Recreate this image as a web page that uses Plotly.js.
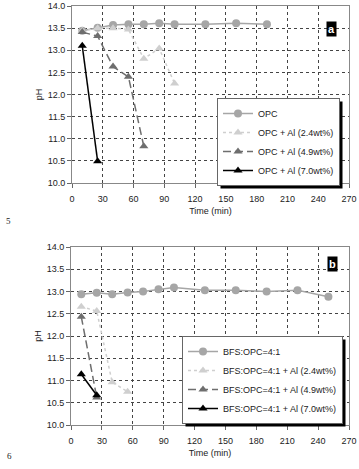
<!DOCTYPE html>
<html><head><meta charset="utf-8">
<script src="https://cdn.plot.ly/plotly-3.0.1.min.js"></script>
<style>html,body{margin:0;padding:0;background:#fff}#chart{width:359px;height:469px}</style>
</head><body><div id="chart"></div>
<script>
// Panel a
const tA_opc = [10, 25, 40, 55, 70, 85, 100, 130, 160, 190];
const pH_A_opc = [13.44, 13.51, 13.57, 13.59, 13.59, 13.61, 13.59, 13.59, 13.61, 13.59];
const tA_24 = [10, 25, 40, 55, 70, 85, 100];
const pH_A_24 = [13.44, 13.50, 13.50, 13.47, 12.81, 13.04, 12.25];
const tA_49 = [10, 25, 40, 55, 70];
const pH_A_49 = [13.41, 13.32, 12.63, 12.40, 10.83];
const tA_70 = [10, 25];
const pH_A_70 = [13.10, 10.49];
const namesA = ['OPC', 'OPC + Al (2.4wt%)', 'OPC + Al (4.9wt%)', 'OPC + Al (7.0wt%)'];

// Panel b
const tB_bfs = [10, 25, 40, 55, 70, 85, 100, 130, 160, 190, 220, 250];
const pH_B_bfs = [12.94, 12.97, 12.94, 12.98, 13.00, 13.05, 13.09, 13.03, 13.03, 13.00, 13.03, 12.88];
const tB_24 = [10, 25, 40, 55];
const pH_B_24 = [12.66, 12.56, 10.96, 10.75];
const tB_49 = [10, 25];
const pH_B_49 = [12.43, 10.62];
const tB_70 = [10, 25];
const pH_B_70 = [11.14, 10.67];
const namesB = ['BFS:OPC=4:1', 'BFS:OPC=4:1 + Al (2.4wt%)', 'BFS:OPC=4:1 + Al (4.9wt%)', 'BFS:OPC=4:1 + Al (7.0wt%)'];

const xTicks = [0, 30, 60, 90, 120, 150, 180, 210, 240, 270];
const panelLabels = ['a', 'b'];
const pageNums = ['5', '6'];

const W = 359, H = 469;
const FONT = 'Liberation Sans, Arial, sans-serif';
const styles = [
  {color: '#a6a6a6', dash: 'solid', symbol: 'circle', size: 8},
  {color: '#cfcfcf', dash: '3px,3px', symbol: 'triangle-up', size: 8},
  {color: '#6e6e6e', dash: '8px,4px', symbol: 'triangle-up', size: 8},
  {color: '#000000', dash: 'solid', symbol: 'triangle-up', size: 8}
];
function tr(x, y, name, i, xa, ya, leg) {
  const s = styles[i];
  return {x: x, y: y, name: name, type: 'scatter', mode: 'lines+markers', xaxis: xa, yaxis: ya, legend: leg,
    line: {color: s.color, width: 1.5, dash: s.dash},
    marker: {color: s.color, symbol: s.symbol, size: s.size}};
}
const data = [
  tr(tA_opc, pH_A_opc, namesA[0], 0, 'x', 'y', 'legend'),
  tr(tA_24, pH_A_24, namesA[1], 1, 'x', 'y', 'legend'),
  tr(tA_49, pH_A_49, namesA[2], 2, 'x', 'y', 'legend'),
  tr(tA_70, pH_A_70, namesA[3], 3, 'x', 'y', 'legend'),
  tr(tB_bfs, pH_B_bfs, namesB[0], 0, 'x2', 'y2', 'legend2'),
  tr(tB_24, pH_B_24, namesB[1], 1, 'x2', 'y2', 'legend2'),
  tr(tB_49, pH_B_49, namesB[2], 2, 'x2', 'y2', 'legend2'),
  tr(tB_70, pH_B_70, namesB[3], 3, 'x2', 'y2', 'legend2')
];
function xax(dom, anchor) {
  return {domain: dom, anchor: anchor, range: [0, 270], tickvals: xTicks, ticktext: xTicks.map(String),
    showgrid: true, gridcolor: '#444', griddash: '3px,3px', gridwidth: 1,
    showline: true, linecolor: '#888', linewidth: 1, mirror: true,
    ticks: 'outside', ticklen: 4, tickcolor: '#666', ticklabelstandoff: 3,
    zeroline: false, tickfont: {family: FONT, size: 9, color: '#222'},
    title: {text: 'Time (min)', font: {family: FONT, size: 9, color: '#222'}, standoff: 4}};
}
function yax(dom, anchor) {
  return {domain: dom, anchor: anchor, range: [10, 14], dtick: 0.5, tick0: 10, tickformat: '.1f',
    showgrid: true, gridcolor: '#444', griddash: '3px,3px', gridwidth: 1,
    showline: true, linecolor: '#888', linewidth: 1, mirror: true,
    ticks: 'outside', ticklen: 4, tickcolor: '#666',
    zeroline: false, tickfont: {family: FONT, size: 9, color: '#222'},
    title: {text: 'pH', font: {family: FONT, size: 9, color: '#222'}, standoff: 3}};
}
const legStyle = {bgcolor: '#fff', bordercolor: '#666', borderwidth: 1,
  font: {family: FONT, size: 9, color: '#222'}, tracegroupgap: 0, itemwidth: 30};
const layout = {
  width: W, height: H, margin: {l: 0, r: 0, t: 0, b: 0},
  paper_bgcolor: '#fff', plot_bgcolor: '#fff', showlegend: true,
  xaxis: xax([72 / W, 349 / W], 'y'),
  yaxis: yax([1 - 183 / H, 1 - 6 / H], 'x'),
  xaxis2: xax([71 / W, 349 / W], 'y2'),
  yaxis2: yax([1 - 425 / H, 1 - 247 / H], 'x2'),
  legend: Object.assign({x: 340 / W, xanchor: 'right', y: 1 - 98 / H, yanchor: 'top'}, legStyle),
  legend2: Object.assign({x: 343 / W, xanchor: 'right', y: 1 - 336 / H, yanchor: 'top'}, legStyle),
  annotations: [
    {text: '<b>' + panelLabels[0] + '</b>', xref: 'paper', yref: 'paper', x: 337 / W, y: 1 - 21 / H,
      showarrow: false, bgcolor: '#000', font: {family: FONT, size: 11, color: '#fff'}, borderpad: 1},
    {text: '<b>' + panelLabels[1] + '</b>', xref: 'paper', yref: 'paper', x: 337.5 / W, y: 1 - 263.5 / H,
      showarrow: false, bgcolor: '#000', font: {family: FONT, size: 11, color: '#fff'}, borderpad: 1},
    {text: pageNums[0], xref: 'paper', yref: 'paper', x: 4 / W, y: 1 - 221 / H, showarrow: false,
      font: {family: 'Liberation Serif, serif', size: 9, color: '#222'}},
    {text: pageNums[1], xref: 'paper', yref: 'paper', x: 5 / W, y: 1 - 463 / H, showarrow: false,
      font: {family: 'Liberation Serif, serif', size: 9, color: '#222'}}
  ]
};
const gd = document.getElementById('chart');
Plotly.newPlot(gd, data, layout, {displayModeBar: false, staticPlot: true}).then(function () {
  const shapes = [];
  ['legend', 'legend2'].forEach(function (id) {
    const bg = gd.querySelector('g.' + id + ' rect.bg');
    if (!bg) return;
    const r = bg.getBoundingClientRect();
    const c = gd.getBoundingClientRect();
    const l = r.left - c.left, t = r.top - c.top, rr = r.right - c.left, b = r.bottom - c.top;
    shapes.push({type: 'rect', xref: 'paper', yref: 'paper', layer: 'above',
      x0: (l + 3) / W, x1: (rr + 3) / W, y0: 1 - (b + 3) / H, y1: 1 - (t + 3) / H,
      fillcolor: '#000', line: {width: 0}});
  });
  return Plotly.relayout(gd, {shapes: shapes});
});
</script></body></html>
